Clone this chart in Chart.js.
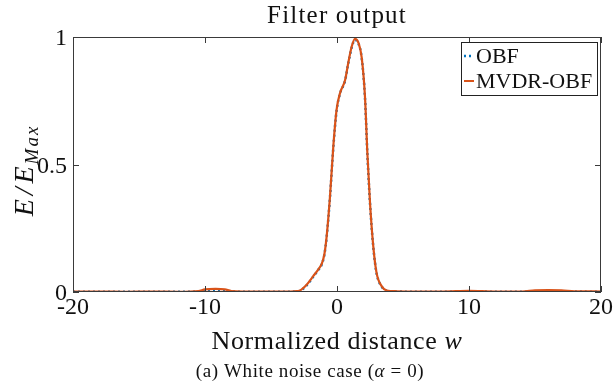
<!DOCTYPE html>
<html lang="en">
<head>
<meta charset="UTF-8" />
<title>Filter output</title>
<script src="https://cdn.jsdelivr.net/npm/chart.js"></script>
<style>
  body { margin: 0; background: #fff; }
  #wrap { width: 613px; height: 385px; position: relative; }
</style>
</head>
<body>
<div id="wrap"><canvas id="filterChart"></canvas></div>
<script>
// normalized distance w
const distances = [-20, -18, -16, -14, -12, -10.5, -10, -9.2, -8.5, -8,
  -6, -4, -3.2, -2.8, -2.3, -1.8, -1.4, -1.16, -0.95, -0.78,
  -0.53, -0.28, -0.03, 0.23, 0.61, 0.86, 1.11, 1.36, 1.62, 1.87,
  2.12, 2.3, 2.5, 2.75, 3.0, 3.39, 3.76, 4.5, 6, 8,
  10, 12, 14, 15, 16, 17, 18, 20];

const mvdrObf = [0.002, 0.002, 0.001, 0.002, 0.001, 0.004, 0.01, 0.012, 0.01, 0.004,
  0.002, 0.002, 0.003, 0.006, 0.028, 0.062, 0.09, 0.11, 0.15, 0.22,
  0.375, 0.57, 0.715, 0.78, 0.83, 0.9, 0.962, 0.993, 0.978, 0.92,
  0.765, 0.545, 0.35, 0.178, 0.074, 0.022, 0.006, 0.003, 0.002, 0.002,
  0.005, 0.002, 0.002, 0.006, 0.007, 0.006, 0.003, 0.002];

const obf = [0.001, 0.001, 0.001, 0.001, 0.001, 0.002, 0.004, 0.005, 0.004, 0.002,
  0.001, 0.001, 0.002, 0.005, 0.026, 0.06, 0.088, 0.108, 0.148, 0.218,
  0.372, 0.566, 0.712, 0.778, 0.828, 0.898, 0.958, 0.988, 0.975, 0.918,
  0.762, 0.542, 0.348, 0.176, 0.073, 0.021, 0.005, 0.002, 0.001, 0.001,
  0.003, 0.001, 0.001, 0.003, 0.003, 0.003, 0.002, 0.001];

const xTicks = [-20, -10, 0, 10, 20];
const xTickLabels = ['-20', '-10', '0', '10', '20'];
const yTicks = [0, 0.5, 1];
const yTickLabels = ['0', '0.5', '1'];

const serif = '"Liberation Serif", "DejaVu Serif", serif';
const blue = '#0072BD';
const orange = '#D95319';

function toPoints(values) {
  return distances.map((d, i) => ({ x: d, y: values[i] }));
}

const decorations = {
  id: 'decorations',
  afterDraw(chart) {
    const ctx = chart.ctx;
    const a = chart.chartArea;
    const xs = chart.scales.x;
    const ys = chart.scales.y;
    const midX = (a.left + a.right) / 2;
    ctx.save();

    // box + inward ticks
    ctx.strokeStyle = '#3a3a3a';
    ctx.lineWidth = 1;
    ctx.strokeRect(a.left + 0.5, a.top + 0.5, a.right - a.left - 1, a.bottom - a.top - 1);
    ctx.beginPath();
    xTicks.forEach(t => {
      const px = Math.round(xs.getPixelForValue(t)) + 0.5;
      ctx.moveTo(px, a.bottom); ctx.lineTo(px, a.bottom - 6);
      ctx.moveTo(px, a.top); ctx.lineTo(px, a.top + 6);
    });
    yTicks.forEach(t => {
      const py = Math.round(ys.getPixelForValue(t)) + 0.5;
      ctx.moveTo(a.left, py); ctx.lineTo(a.left + 6, py);
      ctx.moveTo(a.right, py); ctx.lineTo(a.right - 6, py);
    });
    ctx.stroke();

    // tick labels
    ctx.fillStyle = '#111';
    ctx.font = '24px ' + serif;
    ctx.textBaseline = 'alphabetic';
    ctx.textAlign = 'center';
    xTicks.forEach((t, i) => {
      ctx.fillText(xTickLabels[i], xs.getPixelForValue(t), a.bottom + 22);
    });
    ctx.textAlign = 'right';
    yTicks.forEach((t, i) => {
      ctx.fillText(yTickLabels[i], a.left - 6, ys.getPixelForValue(t) + 8);
    });

    // legend
    const lx = 461, ly = 42, lw = 136, lh = 53;
    ctx.fillStyle = '#fff';
    ctx.fillRect(lx, ly, lw, lh);
    ctx.lineWidth = 1;
    ctx.strokeStyle = '#222';
    ctx.strokeRect(lx + 0.5, ly + 0.5, lw, lh);
    ctx.lineWidth = 2.5;
    ctx.strokeStyle = blue;
    ctx.setLineDash([2, 3]);
    ctx.beginPath(); ctx.moveTo(464, 56); ctx.lineTo(474, 56); ctx.stroke();
    ctx.setLineDash([]);
    ctx.lineWidth = 2;
    ctx.strokeStyle = orange;
    ctx.beginPath(); ctx.moveTo(464, 81); ctx.lineTo(474, 81); ctx.stroke();
    ctx.fillStyle = '#111';
    ctx.font = '22px ' + serif;
    ctx.textAlign = 'left';
    ctx.textBaseline = 'alphabetic';
    ctx.fillText('OBF', 476, 63);
    ctx.fillText('MVDR-OBF', 476, 88);

    // title
    ctx.textAlign = 'center';
    ctx.font = '25px ' + serif;
    ctx.letterSpacing = '1.2px';
    ctx.fillText('Filter output', midX, 23);

    // x label
    ctx.letterSpacing = '0.6px';
    ctx.font = '26px ' + serif;
    const lbl = 'Normalized distance ';
    const wLbl = ctx.measureText(lbl).width;
    ctx.font = 'italic 26px ' + serif;
    const wW = ctx.measureText('w').width;
    const sx = midX - (wLbl + wW) / 2;
    ctx.textAlign = 'left';
    ctx.font = '26px ' + serif;
    ctx.fillText(lbl, sx, 349);
    ctx.font = 'italic 26px ' + serif;
    ctx.fillText('w', sx + wLbl, 349);

    // caption
    ctx.letterSpacing = '0.6px';
    ctx.font = '19px ' + serif;
    const cap1 = '(a) White noise case (';
    const cap2 = '\u03b1';
    const cap3 = ' = 0)';
    const w1 = ctx.measureText(cap1).width;
    const w3 = ctx.measureText(cap3).width;
    ctx.font = 'italic 19px ' + serif;
    const w2 = ctx.measureText(cap2).width;
    let cx = 310 - (w1 + w2 + w3) / 2;
    ctx.font = '19px ' + serif;
    ctx.fillText(cap1, cx, 377);
    ctx.font = 'italic 19px ' + serif;
    ctx.fillText(cap2, cx + w1, 377);
    ctx.font = '19px ' + serif;
    ctx.fillText(cap3, cx + w1 + w2, 377);

    // y label E/E_Max
    ctx.translate(33, (a.top + a.bottom) / 2 + 5);
    ctx.rotate(-Math.PI / 2);
    ctx.letterSpacing = '4px';
    ctx.font = 'italic 28px ' + serif;
    const main = 'E/E';
    const wMain = ctx.measureText(main).width;
    ctx.letterSpacing = '2px';
    ctx.font = 'italic 19px ' + serif;
    const wSub = ctx.measureText('Max').width;
    const ox = -(wMain + wSub) / 2;
    ctx.letterSpacing = '4px';
    ctx.font = 'italic 28px ' + serif;
    ctx.fillText(main, ox, 0);
    ctx.letterSpacing = '2px';
    ctx.font = 'italic 19px ' + serif;
    ctx.fillText('Max', ox + wMain - 2, 5);
    ctx.restore();
  }
};

new Chart(document.getElementById('filterChart'), {
  type: 'line',
  data: {
    datasets: [{
      label: 'MVDR-OBF',
      data: toPoints(mvdrObf),
      borderColor: orange,
      borderWidth: 2.2,
      pointRadius: 0,
      cubicInterpolationMode: 'monotone',
      fill: false
    }, {
      label: 'OBF',
      data: toPoints(obf),
      borderColor: blue,
      borderWidth: 2.5,
      borderDash: [2, 3],
      pointRadius: 0,
      cubicInterpolationMode: 'monotone',
      fill: false
    }]
  },
  options: {
    responsive: true,
    maintainAspectRatio: false,
    animation: false,
    layout: { padding: { left: 73, right: 12, top: 37, bottom: 93 } },
    plugins: { legend: { display: false }, tooltip: { enabled: false } },
    scales: {
      x: {
        type: 'linear',
        min: -20, max: 20,
        afterFit(s) { s.height = 0; },
        grid: { display: false, drawTicks: false },
        border: { display: false },
        ticks: { display: false }
      },
      y: {
        min: 0, max: 1,
        afterFit(s) { s.width = 0; },
        grid: { display: false, drawTicks: false },
        border: { display: false },
        ticks: { display: false }
      }
    }
  },
  plugins: [decorations]
});
</script>
</body>
</html>
